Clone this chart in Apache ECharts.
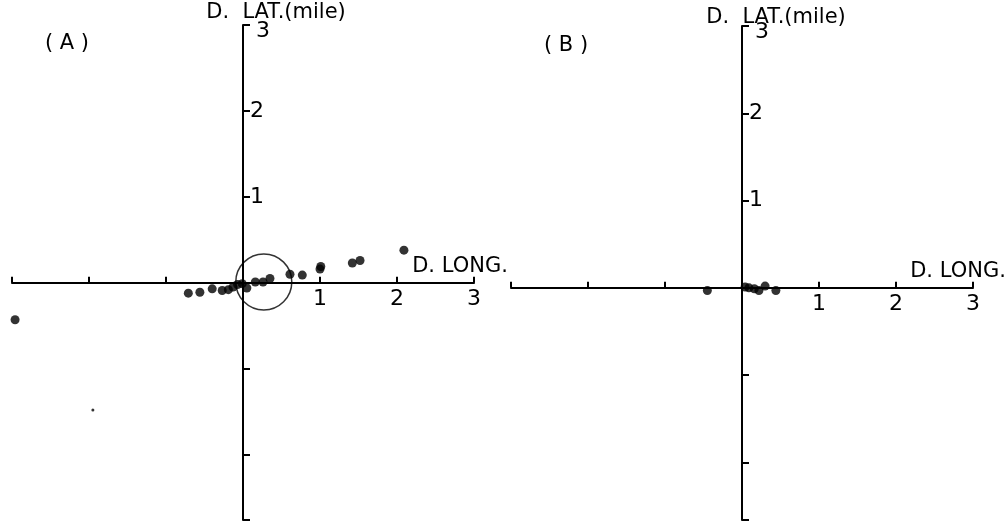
<!DOCTYPE html>
<html><head><meta charset="utf-8">
<script src="https://cdn.jsdelivr.net/npm/echarts@6/dist/echarts.min.js"></script>
<style>html,body{margin:0;padding:0;background:#fff}#c{width:1005px;height:522px}</style>
</head><body><div id="c"></div>
<script>
// Panel A points [D. LONG., D. LAT.] in miles
const pointsA = [
  [-2.96, -0.43], [-0.71, -0.12], [-0.56, -0.11], [-0.40, -0.07], [-0.27, -0.09],
  [-0.19, -0.08], [-0.13, -0.05], [-0.07, -0.02], [-0.01, -0.01], [0.05, -0.06],
  [0.16, 0.01], [0.26, 0.01], [0.35, 0.05], [0.61, 0.10], [0.77, 0.09],
  [1.00, 0.16], [1.01, 0.19], [1.42, 0.23], [1.52, 0.26], [2.09, 0.38]
];
const smallPointsA = [[-1.95, -1.48]];
const circleA = [[0.27, 0.01]];
// Panel B points
const pointsB = [
  [-0.45, -0.03], [0.04, 0.01], [0.09, 0.00], [0.16, -0.01], [0.22, -0.03],
  [0.30, 0.02], [0.44, -0.03]
];
const xTicks = [-3, -2, -1, 0, 1, 2, 3];
const xLabels = [1, 2, 3];
const yLabels = [1, 2, 3];
const yMinA = -2.76, yMinB = -2.66;

const font = 'DejaVu Sans';
// grid geometry
const G = [
  {left: 12, top: 25, width: 462, height: 495, ymin: yMinA},
  {left: 511, top: 26, width: 462, height: 494, ymin: yMinB}
];
function xAx(i) {
  const g = G[i];
  const zeroY = g.top + 3 * g.height / (3 - g.ymin);
  return {
    gridIndex: i, type: 'value', min: -3, max: 3, position: 'bottom',
    offset: -(g.top + g.height - zeroY),
    axisLine: {onZero: false, lineStyle: {color: '#000', width: 2}},
    axisTick: {show: true, inside: true, length: 6, customValues: xTicks, lineStyle: {color: '#000', width: 2}},
    axisLabel: {customValues: xLabels, color: '#000', fontSize: 22, fontFamily: font, margin: 5},
    splitLine: {show: false}
  };
}
function yAx(i) {
  const g = G[i];
  return {
    gridIndex: i, type: 'value', min: g.ymin, max: 3, position: 'left',
    offset: -(g.width / 2),
    axisLine: {onZero: false, lineStyle: {color: '#000', width: 2}},
    axisTick: {show: true, inside: true, length: 7, customValues: [g.ymin, -2, -1, 1, 2, 3], lineStyle: {color: '#000', width: 2}},
    axisLabel: {
      inside: true, customValues: yLabels, color: '#000', fontSize: 22, fontFamily: font, margin: 7,
      formatter: v => (v === 3 ? '{t|3}' : String(v)),
      rich: {t: {fontSize: 22, fontFamily: font, color: '#000', padding: [12, 0, 0, 6]}}
    },
    splitLine: {show: false}
  };
}
const dot = {color: '#000'};
const tf = '21px "DejaVu Sans"';
const chart = echarts.init(document.getElementById('c'));
chart.setOption({
  animation: false,
  backgroundColor: '#fff',
  grid: G.map(g => ({left: g.left, top: g.top, width: g.width, height: g.height, outerBoundsMode: 'none', containLabel: false})),
  xAxis: [xAx(0), xAx(1)],
  yAxis: [yAx(0), yAx(1)],
  series: [
    {type: 'scatter', xAxisIndex: 0, yAxisIndex: 0, data: pointsA, symbolSize: 9, itemStyle: dot, z: 5},
    {type: 'scatter', xAxisIndex: 0, yAxisIndex: 0, data: smallPointsA, symbolSize: 3, itemStyle: dot, z: 5},
    {type: 'scatter', xAxisIndex: 0, yAxisIndex: 0, data: circleA, symbolSize: 56,
     itemStyle: {color: 'rgba(0,0,0,0)', borderColor: '#000', borderWidth: 1.5}, z: 4},
    {type: 'scatter', xAxisIndex: 1, yAxisIndex: 1, data: pointsB, symbolSize: 9, itemStyle: dot, z: 5}
  ],
  graphic: [
    {type: 'text', style: {text: 'D.  LAT.(mile)', x: 276, y: 13, textAlign: 'center', textVerticalAlign: 'middle', font: tf, fill: '#000'}},
    {type: 'text', style: {text: 'D.  LAT.(mile)', x: 776, y: 18, textAlign: 'center', textVerticalAlign: 'middle', font: tf, fill: '#000'}},
    {type: 'text', style: {text: '( A )', x: 67, y: 44, textAlign: 'center', textVerticalAlign: 'middle', font: '21px "DejaVu Sans"', fill: '#000'}},
    {type: 'text', style: {text: '( B )', x: 566, y: 46, textAlign: 'center', textVerticalAlign: 'middle', font: '21px "DejaVu Sans"', fill: '#000'}},
    {type: 'text', style: {text: 'D. LONG.', x: 460, y: 267, textAlign: 'center', textVerticalAlign: 'middle', font: tf, fill: '#000'}},
    {type: 'text', style: {text: 'D. LONG.', x: 958, y: 272, textAlign: 'center', textVerticalAlign: 'middle', font: tf, fill: '#000'}}
  ]
});
</script></body></html>
